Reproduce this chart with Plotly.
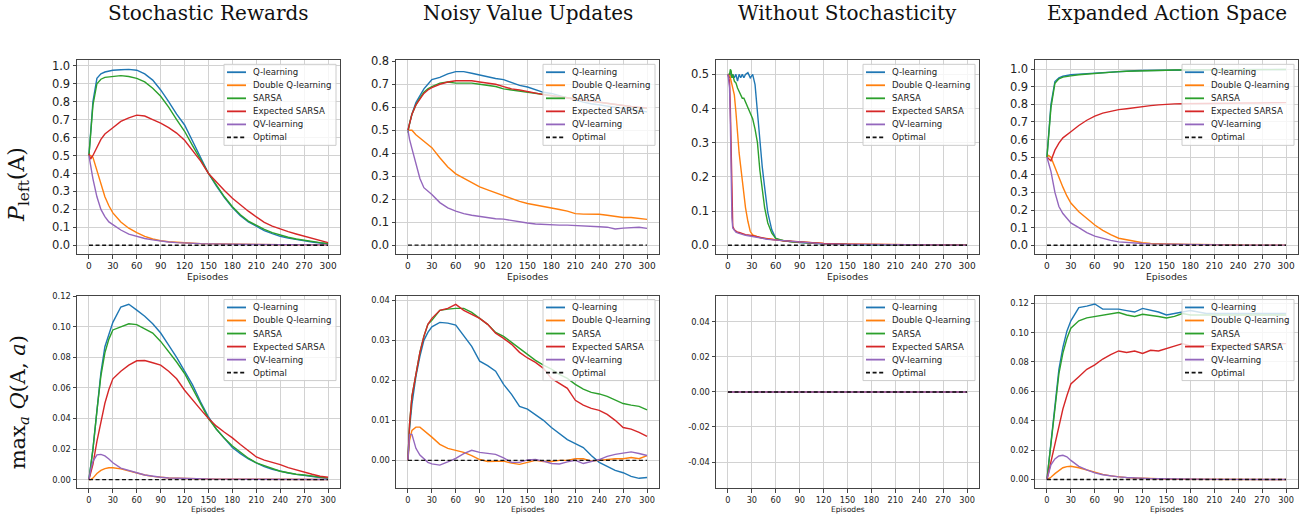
import plotly.graph_objects as go

# ---------------- data ----------------
EP = [0, 2, 5, 10, 15, 20, 25, 30, 40, 50, 60, 70, 80, 90, 100, 110, 120, 130, 140, 150,
      160, 170, 180, 190, 200, 210, 220, 230, 240, 250, 260, 270, 280, 290, 300]
EP_WS = [0, 2, 3, 4, 5, 6, 8, 10, 12, 14, 16, 18, 20, 22, 25, 28, 31, 34, 37, 40,
         43, 46, 50, 55, 60, 65, 70, 80, 90, 100, 120, 150, 200, 250, 300]
EP_FLAT = [0, 300]
OPT_X = [0, 300]
OPTIMAL = [0.0, 0.0]

# Stochastic Rewards, P_left(A)
SR_P_Q = [0.50, 0.62, 0.80, 0.93, 0.955, 0.965, 0.97, 0.975, 0.978, 0.98, 0.975, 0.955, 0.92, 0.865, 0.80, 0.73, 0.67, 0.58,
          0.49, 0.40, 0.33, 0.265, 0.21, 0.165, 0.13, 0.105, 0.082, 0.065, 0.05, 0.04, 0.032, 0.025, 0.018, 0.013, 0.008]
SR_P_DQ = [0.50, 0.50, 0.49, 0.42, 0.34, 0.27, 0.22, 0.18, 0.13, 0.095, 0.07, 0.05, 0.035, 0.025, 0.02, 0.016, 0.013, 0.011,
           0.009, 0.008, 0.007, 0.006, 0.006, 0.005, 0.005, 0.004, 0.004, 0.004, 0.003, 0.003, 0.003, 0.003, 0.002, 0.002, 0.002]
SR_P_SARSA = [0.50, 0.60, 0.78, 0.90, 0.925, 0.935, 0.938, 0.94, 0.945, 0.94, 0.93, 0.91, 0.875, 0.83, 0.77, 0.70, 0.635, 0.555,
              0.475, 0.40, 0.335, 0.27, 0.215, 0.17, 0.135, 0.11, 0.088, 0.07, 0.056, 0.045, 0.035, 0.027, 0.02, 0.015, 0.01]
SR_P_ESARSA = [0.51, 0.48, 0.50, 0.55, 0.59, 0.62, 0.64, 0.655, 0.69, 0.71, 0.725, 0.72, 0.70, 0.68, 0.655, 0.625, 0.585, 0.53,
               0.47, 0.40, 0.35, 0.305, 0.262, 0.225, 0.19, 0.158, 0.128, 0.107, 0.09, 0.076, 0.063, 0.05, 0.038, 0.026, 0.015]
SR_P_QV = [0.50, 0.45, 0.37, 0.27, 0.20, 0.16, 0.13, 0.115, 0.085, 0.062, 0.048, 0.038, 0.03, 0.023, 0.018, 0.015, 0.012, 0.01,
           0.009, 0.008, 0.007, 0.006, 0.005, 0.005, 0.004, 0.004, 0.003, 0.003, 0.003, 0.003, 0.002, 0.002, 0.002, 0.002, 0.002]

# Noisy Value Updates, P_left(A)
NV_P_Q = [0.50, 0.53, 0.57, 0.62, 0.65, 0.68, 0.70, 0.72, 0.73, 0.745, 0.755, 0.755, 0.748, 0.74, 0.735, 0.725, 0.72, 0.708,
          0.695, 0.688, 0.675, 0.665, 0.66, 0.65, 0.64, 0.632, 0.622, 0.615, 0.61, 0.605, 0.60, 0.595, 0.59, 0.585, 0.58]
NV_P_DQ = [0.50, 0.50, 0.50, 0.48, 0.465, 0.45, 0.435, 0.424, 0.38, 0.34, 0.31, 0.29, 0.27, 0.253, 0.24, 0.227, 0.217, 0.203,
           0.19, 0.181, 0.175, 0.168, 0.164, 0.155, 0.148, 0.137, 0.135, 0.135, 0.134, 0.13, 0.125, 0.12, 0.12, 0.115, 0.112]
NV_P_SARSA = [0.49, 0.53, 0.57, 0.61, 0.64, 0.665, 0.68, 0.69, 0.705, 0.71, 0.705, 0.705, 0.705, 0.70, 0.695, 0.69, 0.68, 0.675,
              0.67, 0.665, 0.66, 0.655, 0.65, 0.645, 0.64, 0.635, 0.63, 0.625, 0.62, 0.615, 0.61, 0.605, 0.60, 0.598, 0.595]
NV_P_ESARSA = [0.50, 0.53, 0.57, 0.61, 0.635, 0.66, 0.675, 0.685, 0.70, 0.71, 0.715, 0.715, 0.715, 0.71, 0.705, 0.70, 0.69, 0.68,
               0.675, 0.668, 0.66, 0.655, 0.65, 0.645, 0.64, 0.635, 0.63, 0.625, 0.62, 0.615, 0.61, 0.607, 0.603, 0.60, 0.597]
NV_P_QV = [0.50, 0.46, 0.42, 0.35, 0.29, 0.25, 0.235, 0.22, 0.185, 0.162, 0.148, 0.137, 0.13, 0.124, 0.12, 0.115, 0.113, 0.107,
           0.10, 0.096, 0.092, 0.09, 0.087, 0.087, 0.087, 0.086, 0.085, 0.082, 0.08, 0.078, 0.07, 0.074, 0.076, 0.078, 0.073]

# Without Stochasticity, P_left(A)
WS_P_Q = [0.50, 0.49, 0.50, 0.505, 0.49, 0.50, 0.49, 0.50, 0.48, 0.50, 0.49, 0.50, 0.49, 0.50, 0.505, 0.49, 0.50, 0.47,
          0.39, 0.30, 0.23, 0.17, 0.095, 0.045, 0.02, 0.015, 0.013, 0.01, 0.008, 0.006, 0.004, 0.002, 0.001, 0.0005, 0.0]
WS_P_DQ = [0.50, 0.50, 0.49, 0.48, 0.47, 0.46, 0.44, 0.39, 0.32, 0.27, 0.23, 0.19, 0.15, 0.11, 0.07, 0.04, 0.03, 0.027,
           0.025, 0.022, 0.021, 0.02, 0.018, 0.017, 0.015, 0.014, 0.013, 0.011, 0.009, 0.007, 0.005, 0.003, 0.0015, 0.0008, 0.0003]
WS_P_SARSA = [0.50, 0.50, 0.515, 0.51, 0.49, 0.50, 0.48, 0.475, 0.46, 0.45, 0.44, 0.43, 0.43, 0.42, 0.40, 0.39, 0.37, 0.34,
              0.30, 0.22, 0.16, 0.11, 0.065, 0.035, 0.02, 0.016, 0.013, 0.01, 0.008, 0.006, 0.004, 0.002, 0.001, 0.0005, 0.0]
WS_P_ESARSA = [0.50, 0.48, 0.40, 0.25, 0.10, 0.055, 0.045, 0.04, 0.038, 0.037, 0.035, 0.033, 0.032, 0.031, 0.03, 0.03, 0.028, 0.026,
               0.024, 0.022, 0.021, 0.02, 0.018, 0.016, 0.015, 0.014, 0.013, 0.011, 0.009, 0.007, 0.005, 0.003, 0.0015, 0.0008, 0.0003]
WS_P_QV = [0.50, 0.46, 0.36, 0.20, 0.08, 0.05, 0.042, 0.038, 0.036, 0.034, 0.032, 0.031, 0.03, 0.029, 0.028, 0.027, 0.026, 0.025,
           0.023, 0.021, 0.02, 0.019, 0.017, 0.016, 0.014, 0.013, 0.012, 0.01, 0.008, 0.006, 0.004, 0.0025, 0.0012, 0.0006, 0.0002]

# Expanded Action Space, P_left(A)
EA_P_Q = [0.50, 0.62, 0.80, 0.93, 0.95, 0.96, 0.965, 0.968, 0.972, 0.975, 0.98, 0.982, 0.985, 0.988, 0.99, 0.991, 0.992, 0.993,
          0.994, 0.995, 0.995, 0.996, 0.996, 0.997, 0.997, 0.997, 0.997, 0.998, 0.998, 0.998, 0.998, 0.998, 0.998, 0.998, 0.998]
EA_P_DQ = [0.50, 0.51, 0.50, 0.44, 0.38, 0.33, 0.28, 0.24, 0.19, 0.15, 0.115, 0.085, 0.06, 0.04, 0.03, 0.02, 0.014, 0.01,
           0.008, 0.007, 0.006, 0.005, 0.004, 0.004, 0.003, 0.003, 0.002, 0.002, 0.002, 0.002, 0.001, 0.001, 0.001, 0.001, 0.001]
EA_P_SARSA = [0.50, 0.60, 0.78, 0.92, 0.945, 0.955, 0.96, 0.962, 0.968, 0.972, 0.977, 0.98, 0.983, 0.986, 0.988, 0.99, 0.991, 0.992,
              0.993, 0.994, 0.995, 0.995, 0.996, 0.996, 0.997, 0.997, 0.997, 0.997, 0.998, 0.998, 0.998, 0.998, 0.998, 0.998, 0.998]
EA_P_ESARSA = [0.50, 0.49, 0.48, 0.54, 0.58, 0.61, 0.63, 0.645, 0.68, 0.71, 0.733, 0.75, 0.76, 0.77, 0.775, 0.782, 0.788, 0.793,
               0.797, 0.801, 0.803, 0.804, 0.805, 0.805, 0.806, 0.806, 0.807, 0.807, 0.808, 0.808, 0.808, 0.809, 0.809, 0.81, 0.81]
EA_P_QV = [0.50, 0.47, 0.42, 0.30, 0.22, 0.18, 0.15, 0.127, 0.10, 0.072, 0.052, 0.038, 0.028, 0.019, 0.015, 0.012, 0.01, 0.008,
           0.007, 0.006, 0.005, 0.004, 0.003, 0.003, 0.002, 0.002, 0.002, 0.001, 0.001, 0.001, 0.001, 0.001, 0.001, 0.001, 0.001]

# Stochastic Rewards, max_a Q(A, a)
SR_Q_Q = [0.0, 0.008, 0.02, 0.045, 0.07, 0.087, 0.095, 0.103, 0.113, 0.1148, 0.111, 0.107, 0.102, 0.096, 0.088, 0.08, 0.071, 0.062,
          0.051, 0.041, 0.033, 0.027, 0.021, 0.017, 0.0135, 0.011, 0.0085, 0.0068, 0.0054, 0.0043, 0.0034, 0.0026, 0.002, 0.0014, 0.0008]
SR_Q_DQ = [0.0, 0.0, 0.001, 0.004, 0.006, 0.0072, 0.0078, 0.0078, 0.007, 0.0055, 0.0042, 0.003, 0.0021, 0.0015, 0.0011, 0.0009,
           0.0007, 0.0006, 0.0005, 0.0004, 0.0003, 0.0003, 0.0003, 0.0002, 0.0002, 0.0002, 0.0002, 0.0001, 0.0001, 0.0001, 0.0001,
           0.0001, 0.0001, 0.0001, 0.0001]
SR_Q_SARSA = [0.0, 0.008, 0.02, 0.045, 0.068, 0.083, 0.092, 0.098, 0.100, 0.102, 0.1015, 0.099, 0.096, 0.0905, 0.084, 0.077, 0.0695,
              0.06, 0.05, 0.040, 0.033, 0.027, 0.022, 0.018, 0.014, 0.011, 0.009, 0.007, 0.0055, 0.0045, 0.0035, 0.003, 0.0022,
              0.0015, 0.001]
SR_Q_ESARSA = [0.0, 0.004, 0.01, 0.025, 0.038, 0.05, 0.059, 0.066, 0.071, 0.075, 0.0778, 0.078, 0.0765, 0.075, 0.071, 0.066, 0.0585,
               0.052, 0.046, 0.040, 0.035, 0.031, 0.0273, 0.023, 0.019, 0.0148, 0.0128, 0.0115, 0.0098, 0.0078, 0.0062, 0.0047,
               0.0035, 0.0022, 0.0015]
SR_Q_QV = [0.0, 0.006, 0.012, 0.0162, 0.0165, 0.0155, 0.0135, 0.011, 0.0075, 0.0058, 0.0045, 0.003, 0.0021, 0.0015, 0.0011, 0.0009,
           0.0007, 0.0006, 0.0005, 0.0004, 0.0003, 0.0003, 0.0003, 0.0002, 0.0002, 0.0002, 0.0002, 0.0001, 0.0001, 0.0001, 0.0001,
           0.0001, 0.0001, 0.0001, 0.0001]

# Noisy Value Updates, max_a Q(A, a)
NV_Q_Q = [0.0, 0.008, 0.014, 0.021, 0.026, 0.03, 0.032, 0.0334, 0.0345, 0.0343, 0.0338, 0.031, 0.0285, 0.0248, 0.0237, 0.0223, 0.019,
          0.0165, 0.0135, 0.0128, 0.0115, 0.010, 0.0082, 0.0068, 0.0052, 0.0042, 0.0032, 0.0012, -0.0005, -0.0015, -0.0025, -0.0031,
          -0.004, -0.0045, -0.0043]
NV_Q_DQ = [0.0, 0.005, 0.0075, 0.0083, 0.0083, 0.0075, 0.0067, 0.0058, 0.004, 0.003, 0.0025, 0.002, 0.0012, 0.0002, -0.0003, -0.0003,
           -0.0002, -0.0007, -0.001, -0.0005, 0.0, -0.0003, -0.0003, 0.0, 0.0, 0.0004, 0.0004, -0.0002, 0.0, 0.0003, 0.0004, 0.0004,
           0.0007, 0.0004, 0.0012]
NV_Q_SARSA = [0.0, 0.009, 0.016, 0.022, 0.027, 0.031, 0.034, 0.035, 0.0375, 0.0378, 0.038, 0.038, 0.037, 0.0355, 0.034, 0.032, 0.031,
              0.0295, 0.028, 0.0265, 0.025, 0.0238, 0.0228, 0.0215, 0.0205, 0.019, 0.0178, 0.017, 0.0166, 0.016, 0.015, 0.0142,
              0.0138, 0.0135, 0.0126]
NV_Q_ESARSA = [0.0, 0.009, 0.016, 0.022, 0.027, 0.031, 0.034, 0.0355, 0.0375, 0.038, 0.039, 0.0375, 0.0365, 0.0355, 0.034, 0.0318,
               0.0305, 0.029, 0.027, 0.0256, 0.0245, 0.023, 0.0205, 0.0192, 0.018, 0.015, 0.0138, 0.013, 0.0125, 0.0115, 0.01,
               0.0082, 0.0078, 0.007, 0.006]
NV_Q_QV = [0.0, 0.0065, 0.0065, 0.003, 0.0013, 0.0003, -0.0005, -0.0009, -0.0012, -0.0004, 0.0005, 0.0017, 0.0025, 0.002, 0.0017,
           0.0015, 0.0006, -0.0005, -0.0005, 0.0001, 0.0002, -0.0002, -0.0008, -0.0009, -0.0004, 0.0, -0.0008, -0.0003, 0.0002,
           0.001, 0.0015, 0.0018, 0.0021, 0.0017, 0.0012]

# Without Stochasticity, max_a Q(A, a): every curve stays at zero
WS_Q_Q = [0.0, 0.0]
WS_Q_DQ = [0.0, 0.0]
WS_Q_SARSA = [0.0, 0.0]
WS_Q_ESARSA = [0.0, 0.0]
WS_Q_QV = [0.0, 0.0]

# Expanded Action Space, max_a Q(A, a)
EA_Q_Q = [0.0, 0.01, 0.025, 0.05, 0.075, 0.09, 0.101, 0.108, 0.117, 0.118, 0.1195, 0.116, 0.116, 0.116, 0.115, 0.114, 0.1165, 0.1155,
          0.114, 0.112, 0.113, 0.114, 0.115, 0.114, 0.113, 0.113, 0.113, 0.113, 0.113, 0.113, 0.113, 0.113, 0.113, 0.113, 0.113]
EA_Q_DQ = [0.0, 0.0005, 0.0015, 0.004, 0.006, 0.008, 0.0088, 0.009, 0.008, 0.0065, 0.0048, 0.0035, 0.0025, 0.0018, 0.0013, 0.001,
           0.0007, 0.0005, 0.0004, 0.0003, 0.0002, 0.0002, 0.0001, 0.0001, 0.0001, 0.0001, 0.0001, 0.0, 0.0, 0.0, 0.0, 0.0, 0.0,
           0.0, 0.0]
EA_Q_SARSA = [0.0, 0.01, 0.025, 0.05, 0.072, 0.086, 0.096, 0.103, 0.108, 0.11, 0.111, 0.112, 0.1125, 0.1137, 0.112, 0.111, 0.1125,
              0.112, 0.111, 0.110, 0.111, 0.113, 0.112, 0.112, 0.112, 0.112, 0.112, 0.112, 0.112, 0.112, 0.112, 0.112, 0.112, 0.112,
              0.112]
EA_Q_ESARSA = [0.0, 0.005, 0.012, 0.025, 0.037, 0.048, 0.057, 0.065, 0.07, 0.075, 0.078, 0.082, 0.085, 0.0875, 0.0865, 0.0875,
               0.0858, 0.088, 0.0875, 0.0892, 0.0905, 0.0925, 0.091, 0.091, 0.091, 0.091, 0.091, 0.091, 0.0915, 0.0915, 0.092,
               0.092, 0.092, 0.0925, 0.0925]
EA_Q_QV = [0.0, 0.004, 0.01, 0.014, 0.016, 0.0165, 0.0155, 0.013, 0.009, 0.0065, 0.0045, 0.0032, 0.0024, 0.0018, 0.0014, 0.001,
           0.0008, 0.0006, 0.0005, 0.0004, 0.0003, 0.0003, 0.0002, 0.0002, 0.0001, 0.0001, 0.0001, 0.0001, 0.0, 0.0, 0.0, 0.0,
           0.0, 0.0, 0.0]

COLUMN_TITLES = ["Stochastic Rewards", "Noisy Value Updates", "Without Stochasticity", "Expanded Action Space"]
ROW_LABELS = ["<i>P</i><sub>left</sub>(A)", "max<sub><i>a</i></sub> <i>Q</i>(A, <i>a</i>)"]
SERIES_NAMES = ["Q-learning", "Double Q-learning", "SARSA", "Expected SARSA", "QV-learning"]
SERIES_COLORS = ["#1f77b4", "#ff7f0e", "#2ca02c", "#d62728", "#9467bd"]
OPT_NAME = "Optimal"
X_TICKS = [0, 30, 60, 90, 120, 150, 180, 210, 240, 270, 300]
X_LABEL = "Episodes"
Y_TICKS_P10 = [0.0, 0.1, 0.2, 0.3, 0.4, 0.5, 0.6, 0.7, 0.8, 0.9, 1.0]
Y_TICKS_P8 = [0.0, 0.1, 0.2, 0.3, 0.4, 0.5, 0.6, 0.7, 0.8]
Y_TICKS_P5 = [0.0, 0.1, 0.2, 0.3, 0.4, 0.5]
Y_TICKS_Q12 = [0.0, 0.02, 0.04, 0.06, 0.08, 0.10, 0.12]
Y_TICKS_Q4 = [0.0, 0.01, 0.02, 0.03, 0.04]
Y_TICKS_SYM = [-0.04, -0.02, 0.0, 0.02, 0.04]
Y_TICKTEXT_SYM = ["-0.04", "-0.02", "0.00", "0.02", "0.04"]

# ---------------- layout geometry (pixels) ----------------
W, H = 1312, 515
COLS = [(77, 340), (396, 659), (716, 979), (1035, 1298)]
ROWS = [(55, 251), (293, 488)]


def fx(p):
    return p / W


def fy(p):
    return 1 - p / H


panels = [
    dict(r=0, c=0, x=EP, ys=[SR_P_Q, SR_P_DQ, SR_P_SARSA, SR_P_ESARSA, SR_P_QV], yr=[-0.049, 1.03], tv=Y_TICKS_P10, fmt=".1f"),
    dict(r=0, c=1, x=EP, ys=[NV_P_Q, NV_P_DQ, NV_P_SARSA, NV_P_ESARSA, NV_P_QV], yr=[-0.039, 0.804], tv=Y_TICKS_P8, fmt=".1f"),
    dict(r=0, c=2, x=EP_WS, ys=[WS_P_Q, WS_P_DQ, WS_P_SARSA, WS_P_ESARSA, WS_P_QV], yr=[-0.026, 0.541], tv=Y_TICKS_P5, fmt=".1f"),
    dict(r=0, c=3, x=EP, ys=[EA_P_Q, EA_P_DQ, EA_P_SARSA, EA_P_ESARSA, EA_P_QV], yr=[-0.05, 1.05], tv=Y_TICKS_P10, fmt=".1f"),
    dict(r=1, c=0, x=EP, ys=[SR_Q_Q, SR_Q_DQ, SR_Q_SARSA, SR_Q_ESARSA, SR_Q_QV], yr=[-0.0057, 0.1205], tv=Y_TICKS_Q12, fmt=".2f"),
    dict(r=1, c=1, x=EP, ys=[NV_Q_Q, NV_Q_DQ, NV_Q_SARSA, NV_Q_ESARSA, NV_Q_QV], yr=[-0.0070, 0.0412], tv=Y_TICKS_Q4, fmt=".2f"),
    dict(r=1, c=2, x=EP_FLAT, ys=[WS_Q_Q, WS_Q_DQ, WS_Q_SARSA, WS_Q_ESARSA, WS_Q_QV], yr=[-0.055, 0.055], tv=Y_TICKS_SYM,
         tt=Y_TICKTEXT_SYM),
    dict(r=1, c=3, x=EP, ys=[EA_Q_Q, EA_Q_DQ, EA_Q_SARSA, EA_Q_ESARSA, EA_Q_QV], yr=[-0.006, 0.1252], tv=Y_TICKS_Q12, fmt=".2f"),
]

SPINE = "#444444"
GRID = "#d2d2d2"
TXT = "#222222"

fig = go.Figure()
layout = dict(width=W, height=H, margin=dict(l=0, r=0, t=0, b=0), paper_bgcolor="white",
              plot_bgcolor="white", showlegend=False, font=dict(family="DejaVu Sans", color=TXT))
shapes = []
annotations = []

for i, p in enumerate(panels):
    sfx = "" if i == 0 else str(i + 1)
    left, right = COLS[p["c"]]
    top, bottom = ROWS[p["r"]]
    top_row = p["r"] == 0
    for name, color, ys in zip(SERIES_NAMES, SERIES_COLORS, p["ys"]):
        fig.add_trace(go.Scatter(x=p["x"], y=ys, mode="lines", name=name,
                                 line=dict(color=color, width=1.4),
                                 xaxis="x" + sfx, yaxis="y" + sfx, hoverinfo="skip"))
    fig.add_trace(go.Scatter(x=OPT_X, y=OPTIMAL, mode="lines", name=OPT_NAME,
                             line=dict(color="#111111", width=1.4, dash="4px,2.6px"),
                             xaxis="x" + sfx, yaxis="y" + sfx, hoverinfo="skip"))

    common = dict(showline=True, linecolor=SPINE, linewidth=1, mirror=True, ticks="outside",
                  ticklen=3.5, tickwidth=1, tickcolor=SPINE, showgrid=True, gridcolor=GRID,
                  gridwidth=1.2, zeroline=False)
    layout["xaxis" + sfx] = dict(
        domain=[fx(left), fx(right)], anchor="y" + sfx, range=[-15, 315],
        tickmode="array", tickvals=X_TICKS, tickfont=dict(size=9 if top_row else 8.2), **common)
    yax = dict(domain=[fy(bottom), fy(top)], anchor="x" + sfx, range=p["yr"],
               tickmode="array", tickvals=p["tv"], tickfont=dict(size=11.5 if top_row else 8.3), **common)
    if "tt" in p:
        yax["ticktext"] = p["tt"]
    else:
        yax["tickformat"] = p["fmt"]
    layout["yaxis" + sfx] = yax

    # x-axis label "Episodes" below the tick labels
    annotations.append(dict(text=X_LABEL, x=fx((left + right) / 2), y=fy(bottom + (22.5 if top_row else 21)),
                            xref="paper", yref="paper", xanchor="center", yanchor="middle", showarrow=False,
                            borderpad=0, font=dict(family="DejaVu Sans", size=9.3 if top_row else 7.6, color=TXT)))

    # matplotlib-style legend box in the upper right corner
    lg_r = right - 4
    lg_l = lg_r - 112
    lg_t = top + 4
    lg_b = lg_t + 82
    shapes.append(dict(type="rect", xref="paper", yref="paper", x0=fx(lg_l), x1=fx(lg_r),
                       y0=fy(lg_b), y1=fy(lg_t), fillcolor="rgba(255,255,255,0.8)",
                       line=dict(color="#cccccc", width=1), layer="above"))
    entries = list(zip(SERIES_NAMES, SERIES_COLORS, ["solid"] * 5)) + [(OPT_NAME, "#111111", "4px,2.6px")]
    for k, (name, color, dash) in enumerate(entries):
        yc = lg_t + 8 + k * 13.2
        shapes.append(dict(type="line", xref="paper", yref="paper", x0=fx(lg_l + 3), x1=fx(lg_l + 22),
                           y0=fy(yc), y1=fy(yc), line=dict(color=color, width=1.8, dash=dash), layer="above"))
        annotations.append(dict(text=name, x=fx(lg_l + 28), y=fy(yc), xref="paper", yref="paper",
                                xanchor="left", yanchor="middle", showarrow=False, borderpad=0,
                                font=dict(family="DejaVu Sans", size=8.6, color=TXT)))

for c, title in enumerate(COLUMN_TITLES):
    left, right = COLS[c]
    annotations.append(dict(text=title, x=fx((left + right) / 2), y=fy(7), xref="paper", yref="paper",
                            xanchor="center", yanchor="middle", showarrow=False,
                            font=dict(family="DejaVu Serif", size=20, color="#111111")))

for r, (label, yc, size) in enumerate(zip(ROW_LABELS, [181, 401], [22, 21])):
    annotations.append(dict(text=label, x=fx(19), y=fy(yc), xref="paper", yref="paper",
                            xanchor="center", yanchor="middle", textangle=-90, showarrow=False,
                            font=dict(family="DejaVu Serif", size=size, color="#111111")))

layout["shapes"] = shapes
layout["annotations"] = annotations
fig.update_layout(**layout)
fig.write_html("out.html", config={"displayModeBar": False},
               post_script="document.body.style.margin='0';document.body.style.overflow='hidden';")
